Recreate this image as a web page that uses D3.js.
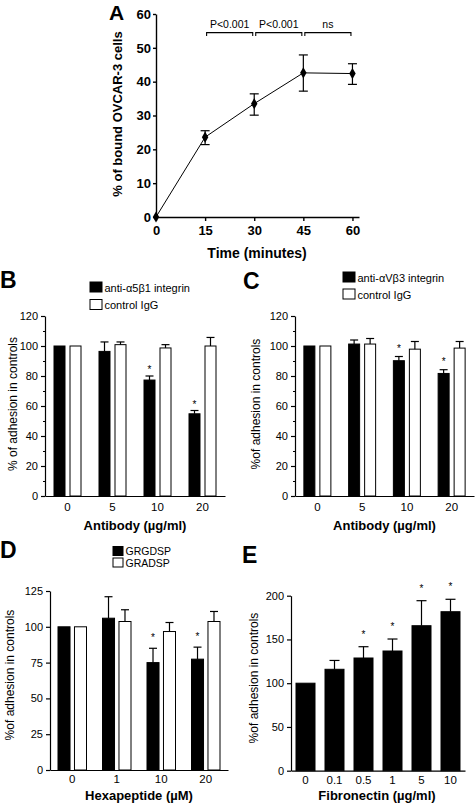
<!DOCTYPE html>
<html><head><meta charset="utf-8">
<script src="https://cdn.jsdelivr.net/npm/d3@7"></script>
<style>
body{margin:0;background:#fff}
svg{display:block}
text{font-family:"Liberation Sans",Arial,Helvetica,sans-serif;fill:#000}
</style>
</head><body>
<svg id="chart" width="475" height="807"></svg>
<script>
// ---------- Panel A : time course ----------
const timeMinutes = [0, 15, 30, 45, 60];
const boundCells  = [0, 23.6, 33.5, 42.6, 42.4];
const boundLow    = [0, 21.4, 30.1, 37.2, 39.2];
const boundHigh   = [0, 25.5, 36.4, 47.9, 45.3];
const timeTicks   = [0, 15, 30, 45, 60];
const boundTicks  = [0, 10, 20, 30, 40, 50, 60];
const bracketFrom = [15, 30, 45];
const bracketTo   = [30, 45, 60];
const bracketLabels = ["P<0.001", "P<0.001", "ns"];

// ---------- Panel B : anti-a5b1 ----------
const antibodyDoses = ["0", "5", "10", "20"];
const antiA5B1      = [100, 96.4, 77.3, 54.8];
const antiA5B1Err   = [0, 6.3, 2.7, 2.2];
const controlIgGB   = [100, 100.9, 98.7, 100];
const controlIgGBErr= [0, 1.8, 2.2, 5.7];
const sigB          = [false, false, true, true];
const adhesionTicksBC = [0, 20, 40, 60, 80, 100, 120];

// ---------- Panel C : anti-aVb3 ----------
const antiAVB3      = [100, 101.3, 90.2, 81.7];
const antiAVB3Err   = [0, 2.7, 2.8, 2.5];
const controlIgGC   = [100, 101.3, 97.9, 98.6];
const controlIgGCErr= [0, 3.7, 5.1, 4.4];
const sigC          = [false, false, true, true];

// ---------- Panel D : hexapeptides ----------
const hexaDoses   = ["0", "1", "10", "20"];
const grgdsp      = [100, 106, 75, 77.4];
const grgdspErr   = [0, 15, 10, 8.4];
const gradsp      = [100, 103.7, 96.7, 103.7];
const gradspErr   = [0, 8.2, 6.3, 7];
const sigD        = [false, false, true, true];
const adhesionTicksD = [0, 25, 50, 75, 100, 125];

// ---------- Panel E : fibronectin ----------
const fibroDoses    = ["0", "0.1", "0.5", "1", "5", "10"];
const fibroAdhesion = [100, 115.9, 128.8, 136.8, 165.7, 181.7];
const fibroErr      = [0, 10.1, 12.9, 13.7, 28.6, 14.2];
const sigE          = [false, false, true, true, true, true];
const adhesionTicksE = [0, 50, 100, 150, 200];

const svg = d3.select("#chart");
svg.append("rect").attr("width", 475).attr("height", 807).attr("fill", "#fff");

function styleAxis(g, w) {
  g.select(".domain").attr("stroke", "#000").attr("stroke-width", w);
  g.selectAll(".tick line").attr("stroke", "#000").attr("stroke-width", w);
  g.selectAll("text").attr("fill", "#000").style("font-family", '"Liberation Sans",Arial,sans-serif');
}

// ================= Panel A =================
(function () {
  const x = d3.scaleLinear().domain([0, 62]).range([156, 359]);
  const y = d3.scaleLinear().domain([0, 60]).range([217, 14]);
  const gx = svg.append("g").attr("transform", `translate(0,${y(0)})`)
    .call(d3.axisBottom(x).tickValues(timeTicks).tickSize(4).tickSizeOuter(0).tickPadding(5));
  styleAxis(gx, 1.4);
  gx.selectAll("text").style("font-size", "13px").style("font-weight", "bold");
  const gy = svg.append("g").attr("transform", `translate(${x(0)},0)`)
    .call(d3.axisLeft(y).tickValues(boundTicks).tickSize(3).tickSizeOuter(0).tickPadding(2));
  styleAxis(gy, 1.4);
  gy.selectAll("text").style("font-size", "13px").style("font-weight", "bold");

  const pts = timeMinutes.map((t, i) => ({ t, v: boundCells[i], lo: boundLow[i], hi: boundHigh[i] }));
  svg.append("path").datum(pts)
    .attr("d", d3.line().x(d => x(d.t)).y(d => y(d.v)))
    .attr("fill", "none").attr("stroke", "#000").attr("stroke-width", 1);
  const eb = svg.append("g").attr("stroke", "#000").attr("stroke-width", 1.2);
  pts.filter(d => d.hi > d.lo).forEach(d => {
    eb.append("line").attr("x1", x(d.t)).attr("x2", x(d.t)).attr("y1", y(d.lo)).attr("y2", y(d.hi));
    eb.append("line").attr("x1", x(d.t) - 4.5).attr("x2", x(d.t) + 4.5).attr("y1", y(d.hi)).attr("y2", y(d.hi));
    eb.append("line").attr("x1", x(d.t) - 4.5).attr("x2", x(d.t) + 4.5).attr("y1", y(d.lo)).attr("y2", y(d.lo));
  });
  svg.append("g").selectAll("path").data(pts).join("path")
    .attr("transform", d => `translate(${x(d.t)},${y(d.v)})`)
    .attr("d", d3.symbol(d3.symbolDiamond, 36))
    .attr("fill", "#000");

  // significance brackets
  const by = y(54.5);
  bracketFrom.forEach((f, i) => {
    const x1 = x(f) + 1.5, x2 = x(bracketTo[i]) - 1.5;
    svg.append("path").attr("d", `M${x1},${by + 3.5}V${by}H${x2}V${by + 3.5}`)
      .attr("fill", "none").attr("stroke", "#000").attr("stroke-width", 1.1);
    svg.append("text").attr("x", (x1 + x2) / 2).attr("y", by - 4.5)
      .attr("text-anchor", "middle").style("font-size", "10.5px").text(bracketLabels[i]);
  });

  svg.append("text").attr("x", 257).attr("y", 258).attr("text-anchor", "middle")
    .style("font-size", "14px").style("font-weight", "bold").text("Time (minutes)");
  svg.append("text").attr("transform", "translate(122,114) rotate(-90)").attr("text-anchor", "middle")
    .style("font-size", "13px").style("font-weight", "bold").text("% of bound OVCAR-3 cells");
  svg.append("text").attr("x", 109).attr("y", 20).style("font-size", "21px").style("font-weight", "bold").text("A");
})();

// ================= Grouped / simple bar panels =================
function barPanel(cfg) {
  const x = d3.scaleBand().domain(cfg.categories).range(cfg.xRange).paddingInner(0).paddingOuter(0);
  const y = d3.scaleLinear().domain([0, cfg.yMax]).range(cfg.yRange);
  const sub = d3.scaleBand().domain(cfg.series.map((s, i) => i))
    .range(cfg.subRange).paddingInner(cfg.subPad);

  if (cfg.minor) {
    const gm = svg.append("g").attr("transform", `translate(${cfg.xRange[0]},0)`)
      .call(d3.axisLeft(y).tickValues(cfg.minor).tickSize(2).tickFormat(""));
    gm.select(".domain").remove();
    gm.selectAll("line").attr("stroke", "#000").attr("stroke-width", 1);
  }
  const gy = svg.append("g").attr("transform", `translate(${cfg.xRange[0]},0)`)
    .call(d3.axisLeft(y).tickValues(cfg.yTicks).tickSize(4).tickSizeOuter(0).tickPadding(3));
  styleAxis(gy, 1.2);
  gy.selectAll("text").style("font-size", "11px");
  const gx = svg.append("g").attr("transform", `translate(0,${y(0)})`)
    .call(d3.axisBottom(x).tickSize(0).tickSizeOuter(0).tickPadding(cfg.xPad));
  styleAxis(gx, 1.2);
  gx.selectAll("text").style("font-size", "11.5px");

  cfg.series.forEach((s, si) => {
    const g = svg.append("g");
    cfg.categories.forEach((c, ci) => {
      const v = s.values[ci], e = s.err[ci];
      const bx = x(c) + x.bandwidth() / 2 + sub(si);
      const bw = sub.bandwidth();
      g.append("rect").attr("x", bx).attr("y", y(v)).attr("width", bw).attr("height", y(0) - y(v))
        .attr("fill", s.fill).attr("stroke", "#000").attr("stroke-width", 1);
      const cx = bx + bw / 2;
      if (e > 0) {
        g.append("line").attr("x1", cx).attr("x2", cx).attr("y1", y(v)).attr("y2", y(v + e))
          .attr("stroke", "#000").attr("stroke-width", 1.2);
        g.append("line").attr("x1", cx - cfg.cap / 2).attr("x2", cx + cfg.cap / 2)
          .attr("y1", y(v + e)).attr("y2", y(v + e)).attr("stroke", "#000").attr("stroke-width", 1.2);
      }
      if (s.sig && s.sig[ci]) {
        g.append("text").attr("x", cx).attr("y", y(v + e) - cfg.starOffset)
          .attr("text-anchor", "middle").style("font-size", "10px").text("*");
      }
    });
  });

  const xc = (cfg.xRange[0] + cfg.xRange[1]) / 2;
  svg.append("text").attr("x", xc + (cfg.titleShift || 0)).attr("y", cfg.titleY).attr("text-anchor", "middle")
    .style("font-size", "13px").style("font-weight", "bold").text(cfg.xTitle);
  svg.append("text").attr("transform", `translate(${cfg.yTitleX},${cfg.yTitleY}) rotate(-90)`)
    .attr("text-anchor", "middle").attr("dominant-baseline", "central")
    .style("font-size", "12px").text(cfg.yTitle);
  svg.append("text").attr("x", cfg.letterX).attr("y", cfg.letterY)
    .style("font-size", "23px").style("font-weight", "bold").text(cfg.letter);

  if (cfg.legend) {
    cfg.legend.forEach((L, i) => {
      svg.append("rect").attr("x", cfg.legendX).attr("y", cfg.legendY + i * cfg.legendStep)
        .attr("width", cfg.legendW).attr("height", cfg.legendH)
        .attr("fill", cfg.series[i].fill).attr("stroke", "#000").attr("stroke-width", 1);
      svg.append("text").attr("x", cfg.legendX + cfg.legendW + 2.5)
        .attr("y", cfg.legendY + i * cfg.legendStep + cfg.legendH - 0.5)
        .style("font-size", cfg.legendFont).text(L);
    });
  }
}

barPanel({
  categories: antibodyDoses, xRange: [45, 225], yMax: 120, yRange: [496, 316],
  yTicks: adhesionTicksBC, minor: [10, 30, 50, 70, 90, 110], xPad: 7,
  subRange: [-13.5, 13.5], subPad: 0.3125, cap: 8, starOffset: 3,
  series: [
    { values: antiA5B1, err: antiA5B1Err, fill: "#000", sig: sigB },
    { values: controlIgGB, err: controlIgGBErr, fill: "#fff" }
  ],
  xTitle: "Antibody (\u00b5g/ml)", titleY: 530,
  yTitle: "% of adhesion in controls", yTitleX: 13, yTitleY: 404,
  letter: "B", letterX: 0, letterY: 288,
  legend: ["anti-\u03b15\u03b21 integrin", "control IgG"],
  legendX: 90, legendY: 282, legendStep: 17.5, legendW: 12, legendH: 10, legendFont: "11px"
});

barPanel({
  categories: antibodyDoses, xRange: [295, 474], yMax: 120, yRange: [496, 316],
  yTicks: adhesionTicksBC, minor: [10, 30, 50, 70, 90, 110], xPad: 7,
  subRange: [-13.5, 13.5], subPad: 0.3125, cap: 8, starOffset: 5,
  series: [
    { values: antiAVB3, err: antiAVB3Err, fill: "#000", sig: sigC },
    { values: controlIgGC, err: controlIgGCErr, fill: "#fff" }
  ],
  xTitle: "Antibody (\u00b5g/ml)", titleY: 530,
  yTitle: "%of adhesion in controls", yTitleX: 256, yTitleY: 404,
  letter: "C", letterX: 243, letterY: 289,
  legend: ["anti-\u03b1V\u03b23 integrin", "control IgG"],
  legendX: 343, legendY: 272, legendStep: 17, legendW: 12, legendH: 10, legendFont: "11px"
});

barPanel({
  categories: hexaDoses, xRange: [50, 228], yMax: 125, yRange: [770, 591],
  yTicks: adhesionTicksD, xPad: 5,
  subRange: [-14.25, 14.25], subPad: 0.27, cap: 8, starOffset: 7,
  series: [
    { values: grgdsp, err: grgdspErr, fill: "#000", sig: sigD },
    { values: gradsp, err: gradspErr, fill: "#fff" }
  ],
  xTitle: "Hexapeptide (\u00b5M)", titleY: 800,
  yTitle: "%of adhesion in controls", yTitleX: 10, yTitleY: 675,
  letter: "D", letterX: 0, letterY: 558,
  legend: ["GRGDSP", "GRADSP"],
  legendX: 113, legendY: 546.5, legendStep: 11.5, legendW: 10, legendH: 9, legendFont: "10.5px"
});

barPanel({
  categories: fibroDoses, xRange: [291, 465], yMax: 200, yRange: [770.7, 595.7],
  yTicks: adhesionTicksE, xPad: 5,
  subRange: [-9.5, 9.5], subPad: 0, cap: 10, starOffset: 9,
  series: [
    { values: fibroAdhesion, err: fibroErr, fill: "#000", sig: sigE }
  ],
  xTitle: "Fibronectin (\u00b5g/ml)", titleY: 800, titleShift: -1,
  yTitle: "%of adhesion in controls", yTitleX: 254, yTitleY: 678,
  letter: "E", letterX: 242, letterY: 563
});
</script>
</body></html>
